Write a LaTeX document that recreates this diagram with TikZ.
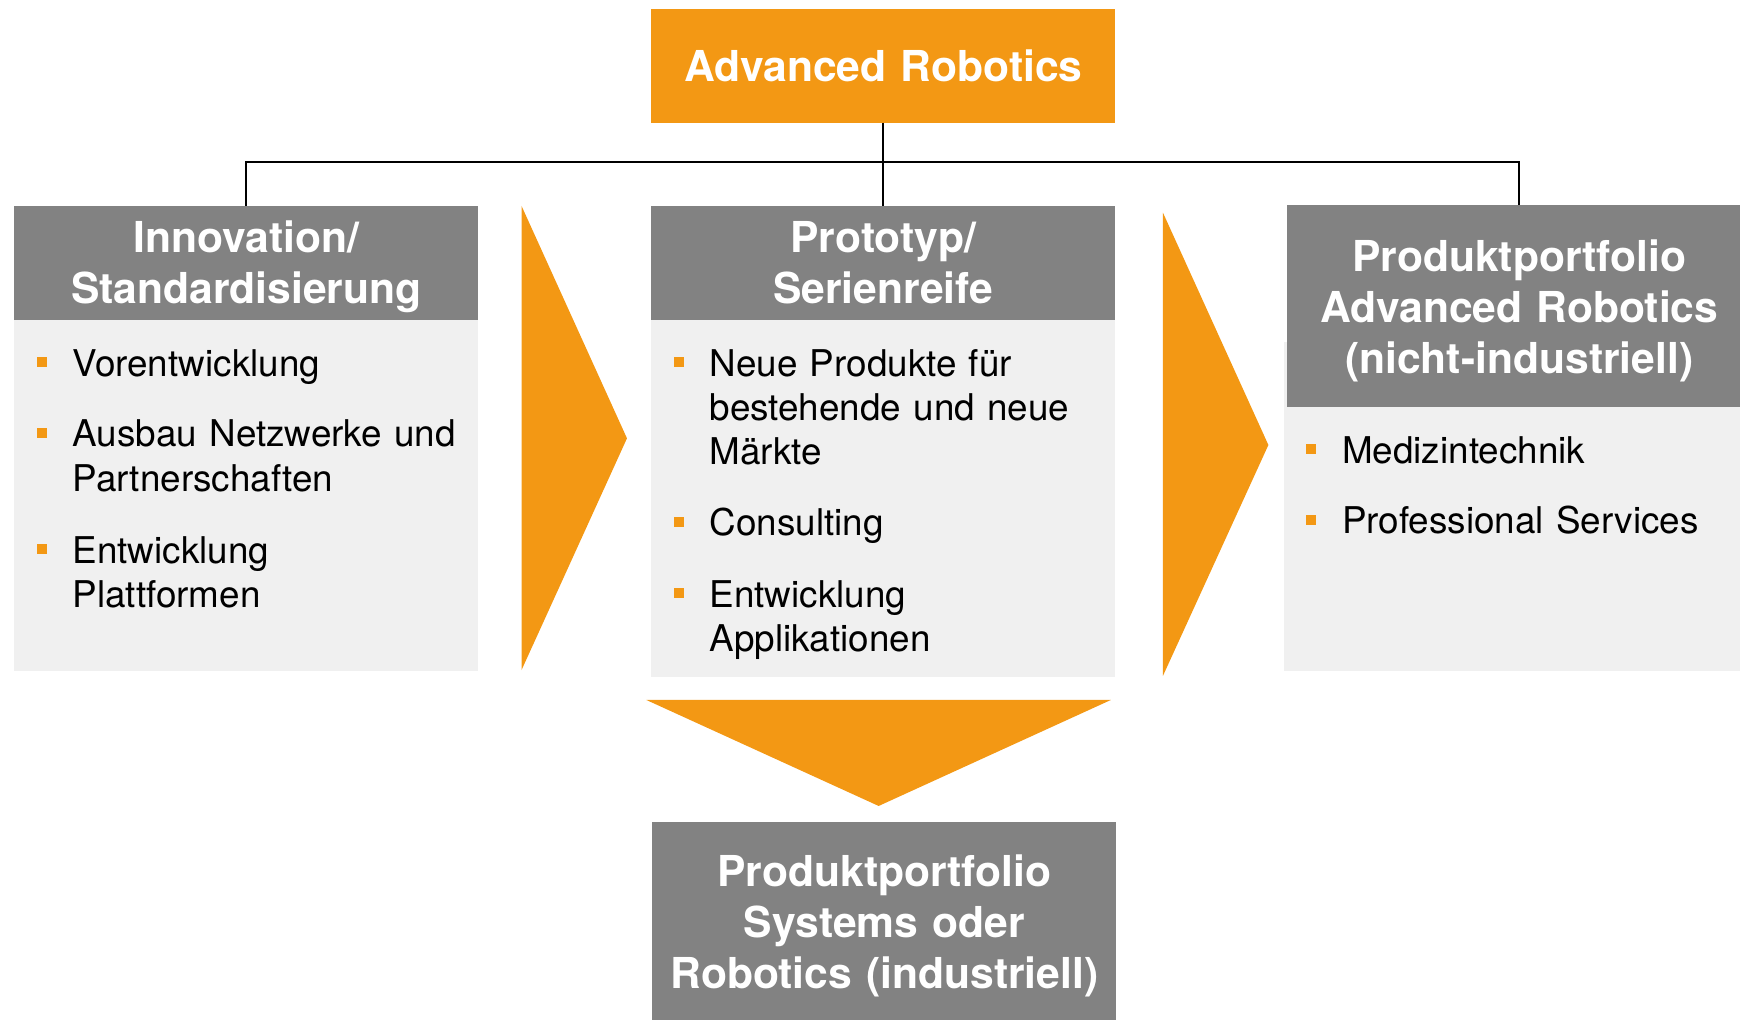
\documentclass[tikz,border=0pt]{standalone}
\usepackage{fontspec}
\setmainfont{TeX Gyre Heros}
\definecolor{orng}{HTML}{F39814}
\definecolor{hdrgray}{HTML}{828282}
\definecolor{bodygray}{HTML}{F0F0F0}
\begin{document}
\begin{tikzpicture}[x=0.5pt,y=-0.5pt,
  box/.style={rectangle, inner sep=0pt, outer sep=0pt, anchor=north west},
  hdr/.style={box, fill=hdrgray},
  orangebox/.style={box, fill=orng},
  bodyrect/.style={box, fill=bodygray},
  hdrtext/.style={inner sep=0pt, anchor=base, text width=220pt, align=center, text=white, font=\fontsize{19.2}{23}\selectfont\bfseries},
  item/.style={inner sep=0pt, anchor=base west, text width=190pt, align=left, text=black, font=\fontsize{16.6}{20}\selectfont},
  bullet/.style={rectangle, inner sep=0pt, outer sep=0pt, fill=orng, minimum width=4.5pt, minimum height=4.5pt},
  conn/.style={draw=black, line width=0.9pt},
  chev/.style={fill=orng}
]
\useasboundingbox (0,0) rectangle (1568,919);
\clip (0,0) rectangle (1568,919);

% top box
\node[orangebox, minimum width=209pt, minimum height=51.25pt] (top) at (587,8) {};
\node[hdrtext] (toptxt) at (796,73.6) {Advanced Robotics};

% column bodies
\node[bodyrect, minimum width=209pt, minimum height=158pt] (b1) at (13,288.4) {};
\node[bodyrect, minimum width=209pt, minimum height=160.7pt] (b2) at (587,288.4) {};
\node[bodyrect, minimum width=209pt, minimum height=148.2pt] (b3) at (1157,308) {};

% headers
\node[hdr, minimum width=209pt, minimum height=51.4pt] (h1) at (13,185.6) {};
\node[hdr, minimum width=209pt, minimum height=51.4pt] (h2) at (587,185.6) {};
\node[hdr, minimum width=209pt, minimum height=90.9pt] (h3) at (1160,184.7) {};
\node[hdr, minimum width=209.1pt, minimum height=100pt] (h4) at (587.4,740.5) {};

\node[hdrtext] (h1t) at (222,227.5) {Innovation/\\Standardisierung};
\node[hdrtext] (h2t) at (796,227.5) {Prototyp/\\Serienreife};
\node[hdrtext] (h3t) at (1369,244.5) {Produktportfolio\\Advanced Robotics\\(nicht-industriell)};
\node[hdrtext] (h4t) at (797,799) {Produktportfolio\\Systems oder\\Robotics (industriell)};

% connectors
\draw[conn] (top.south) -- (h2.north);
\draw[conn] (h1.north) -- ++(0,-39.3) coordinate (bus) -| (h3.north);

% chevrons
\fill[chev] (470,185.6) -- (565,395) -- (470,603.8) -- cycle;
\fill[chev] (1048,191.7) -- (1143,401) -- (1048,609) -- cycle;
\fill[chev] (582.5,630.8) -- (1001,630.8) -- (791.8,726.3) -- cycle;

% left items
\node[bullet] (l1b) at (37.5,326.5) {};
\node[item] (l1) at (65,339) {Vorentwicklung};
\node[bullet] (l2b) at (37.5,390) {};
\node[item] (l2) at (65,402.5) {Ausbau Netzwerke und\\Partnerschaften};
\node[bullet] (l3b) at (37.5,495) {};
\node[item] (l3) at (65,507.5) {Entwicklung\\Plattformen};

% middle items
\node[bullet] (m1b) at (611.5,326.5) {};
\node[item] (m1) at (639,339) {Neue Produkte für\\bestehende und neue\\Märkte};
\node[bullet] (m2b) at (611.5,470.5) {};
\node[item] (m2) at (639,483) {Consulting};
\node[bullet] (m3b) at (611.5,534.5) {};
\node[item] (m3) at (639,547) {Entwicklung\\Applikationen};

% right items
\node[bullet] (r1b) at (1181.5,405) {};
\node[item] (r1) at (1209,417.5) {Medizintechnik};
\node[bullet] (r2b) at (1181.5,468.5) {};
\node[item] (r2) at (1209,481) {Professional Services};
\end{tikzpicture}
\end{document}
